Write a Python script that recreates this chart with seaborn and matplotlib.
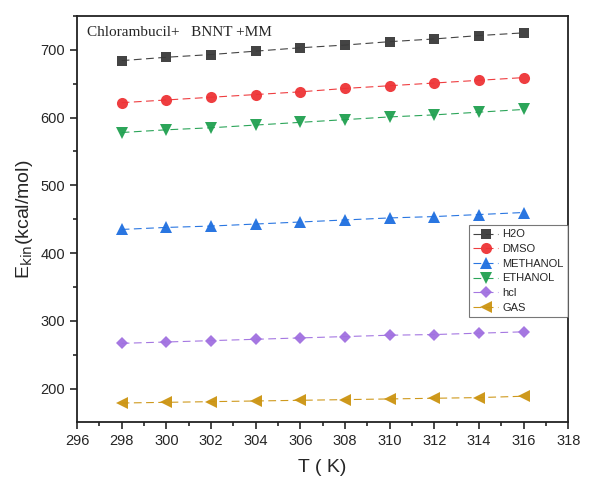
import pandas as pd
import matplotlib.pyplot as plt
import seaborn as sns
from matplotlib.ticker import MultipleLocator

# temperatures (K)
temps = [298, 300, 302, 304, 306, 308, 310, 312, 314, 316]

# kinetic energy per solvent (kcal/mol)
h2o = [684, 689, 693, 698, 703, 707, 712, 716, 721, 725]
dmso = [622, 626, 630, 634, 638, 643, 647, 651, 655, 659]
methanol = [435, 438, 440, 443, 446, 449, 452, 454, 457, 460]
ethanol = [578, 582, 585, 589, 593, 597, 601, 604, 608, 612]
hcl = [267, 269, 271, 273, 275, 277, 279, 280, 282, 284]
gas = [179, 180, 181, 182, 183, 184, 185, 186, 187, 189]

names = ['H2O', 'DMSO', 'METHANOL', 'ETHANOL', 'hcl', 'GAS']
colors = ['#3a3a3a', '#ee3336', '#1e6fe0', '#20a050', '#a070e0', '#cc9411']
markers = ['s', 'o', '^', 'v', 'D', '<']
sizes = [7, 8, 8, 8, 6.5, 8]

series = [h2o, dmso, methanol, ethanol, hcl, gas]

sns.set_style('ticks')
plt.rcParams['font.family'] = ['Liberation Sans', 'DejaVu Sans']

fig = plt.figure(figsize=(5.9, 4.82), dpi=100)
ax = fig.add_axes([0.1305, 0.1245, 0.8325, 0.8425])

for name, vals, c, m, s in zip(names, series, colors, markers, sizes):
    df = pd.DataFrame({'T': temps, 'E': vals})
    sns.lineplot(data=df, x='T', y='E', ax=ax, color=c, marker=m,
                 markersize=s, markeredgewidth=0, linestyle=(0, (7, 4)),
                 linewidth=0.8, alpha=0.95, label=name)

ax.set_xlim(296, 318)
ax.set_ylim(151, 750)
ax.xaxis.set_major_locator(MultipleLocator(2))
ax.xaxis.set_minor_locator(MultipleLocator(1))
ax.yaxis.set_major_locator(MultipleLocator(100))
ax.yaxis.set_minor_locator(MultipleLocator(50))
ax.tick_params(which='major', direction='out', length=5, width=1.2, labelsize=10.5,
               top=False, right=False)
ax.tick_params(which='minor', direction='out', length=3, width=1.2,
               top=False, right=False)
for sp in ax.spines.values():
    sp.set_linewidth(1.3)
    sp.set_color('#222222')

ax.set_xlabel('T ( K)', fontsize=14, labelpad=8)
ax.set_ylabel(r'E$_{\mathrm{kin}}$(kcal/mol)', fontsize=14, labelpad=4)

ax.text(0.02, 0.975, 'Chlorambucil+   BNNT +MM', transform=ax.transAxes,
        fontsize=11, family='Liberation Serif', va='top', ha='left')

leg = ax.legend(loc='upper right', bbox_to_anchor=(1.0, 0.485), fontsize=8,
                frameon=True, fancybox=False, edgecolor='#555555',
                handlelength=2.2, borderpad=0.4, labelspacing=0.42,
                handletextpad=0.4, borderaxespad=0.0)
leg.get_frame().set_linewidth(0.8)

fig.savefig('out.png', dpi=100)
